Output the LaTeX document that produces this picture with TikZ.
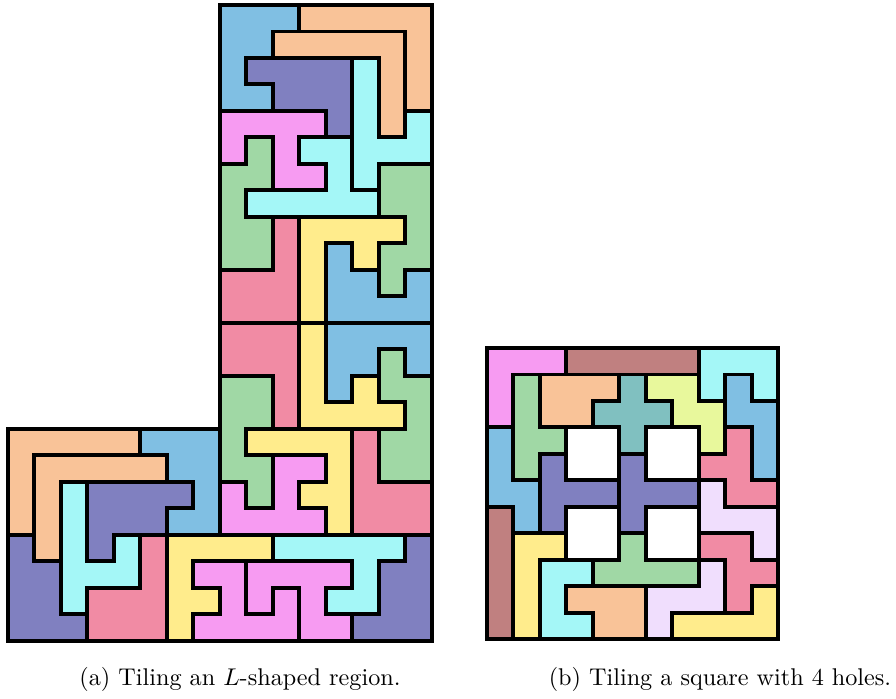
\documentclass[tikz,border=0pt]{standalone}
\usepackage{tikz}

\definecolor{tBlue}{RGB}{128,191,227}
\definecolor{tOrange}{RGB}{249,195,152}
\definecolor{tPurple}{RGB}{128,128,192}
\definecolor{tCyan}{RGB}{164,247,247}
\definecolor{tMagenta}{RGB}{247,155,242}
\definecolor{tGreen}{RGB}{160,216,165}
\definecolor{tRose}{RGB}{241,139,164}
\definecolor{tYellow}{RGB}{255,236,140}
\definecolor{tBrown}{RGB}{192,128,128}
\definecolor{tTeal}{RGB}{128,192,192}
\definecolor{tLime}{RGB}{232,248,156}
\definecolor{tLavender}{RGB}{240,222,253}

\begin{document}
\begin{tikzpicture}[
  x=0.01452cm, y=-0.01452cm,
  tile/.style={draw=black, line width=1.65pt, line join=miter},
  subcap/.style={anchor=base, font=\normalsize},
]

\useasboundingbox (0,0) rectangle (896,698);

%% (a) L-shaped region, octominoes
\begin{scope}[shift={(8,5)}, x=0.3848cm, y=-0.3848cm]
\filldraw[tile, fill=tBlue]    (8,0) -- (11,0) -- (11,1) -- (10,1) -- (10,2) -- (9,2) -- (9,3) -- (10,3) -- (10,4) -- (8,4) -- cycle;
\filldraw[tile, fill=tOrange]  (11,0) -- (16,0) -- (16,4) -- (15,4) -- (15,1) -- (11,1) -- cycle;
\filldraw[tile, fill=tOrange]  (10,1) -- (15,1) -- (15,5) -- (14,5) -- (14,2) -- (10,2) -- cycle;
\filldraw[tile, fill=tPurple]  (9,2) -- (13,2) -- (13,5) -- (12,5) -- (12,4) -- (10,4) -- (10,3) -- (9,3) -- cycle;
\filldraw[tile, fill=tCyan]    (13,2) -- (14,2) -- (14,5) -- (15,5) -- (15,4) -- (16,4) -- (16,6) -- (14,6) -- (14,7) -- (13,7) -- cycle;
\filldraw[tile, fill=tMagenta] (8,4) -- (12,4) -- (12,5) -- (11,5) -- (11,6) -- (12,6) -- (12,7) -- (10,7) -- (10,5) -- (9,5) -- (9,6) -- (8,6) -- cycle;
\filldraw[tile, fill=tCyan]    (11,5) -- (13,5) -- (13,7) -- (14,7) -- (14,8) -- (9,8) -- (9,7) -- (12,7) -- (12,6) -- (11,6) -- cycle;
\filldraw[tile, fill=tGreen]   (9,5) -- (10,5) -- (10,7) -- (9,7) -- (9,8) -- (10,8) -- (10,10) -- (8,10) -- (8,6) -- (9,6) -- cycle;
\filldraw[tile, fill=tGreen]   (14,6) -- (16,6) -- (16,10) -- (15,10) -- (15,11) -- (14,11) -- (14,9) -- (15,9) -- (15,8) -- (14,8) -- cycle;
\filldraw[tile, fill=tRose]    (10,8) -- (11,8) -- (11,12) -- (8,12) -- (8,10) -- (10,10) -- cycle;
\filldraw[tile, fill=tYellow]  (11,8) -- (15,8) -- (15,9) -- (14,9) -- (14,10) -- (13,10) -- (13,9) -- (12,9) -- (12,12) -- (11,12) -- cycle;
\filldraw[tile, fill=tBlue]    (12,9) -- (13,9) -- (13,10) -- (14,10) -- (14,11) -- (15,11) -- (15,10) -- (16,10) -- (16,12) -- (12,12) -- cycle;
\filldraw[tile, fill=tRose]    (8,12) -- (11,12) -- (11,16) -- (10,16) -- (10,14) -- (8,14) -- cycle;
\filldraw[tile, fill=tYellow]  (11,12) -- (12,12) -- (12,15) -- (13,15) -- (13,14) -- (14,14) -- (14,15) -- (15,15) -- (15,16) -- (11,16) -- cycle;
\filldraw[tile, fill=tBlue]    (12,12) -- (16,12) -- (16,14) -- (15,14) -- (15,13) -- (14,13) -- (14,14) -- (13,14) -- (13,15) -- (12,15) -- cycle;
\filldraw[tile, fill=tGreen]   (14,13) -- (15,13) -- (15,14) -- (16,14) -- (16,18) -- (14,18) -- (14,16) -- (15,16) -- (15,15) -- (14,15) -- cycle;
\filldraw[tile, fill=tGreen]   (8,14) -- (10,14) -- (10,16) -- (9,16) -- (9,17) -- (10,17) -- (10,19) -- (9,19) -- (9,18) -- (8,18) -- cycle;
\filldraw[tile, fill=tYellow]  (9,16) -- (13,16) -- (13,20) -- (12,20) -- (12,19) -- (11,19) -- (11,18) -- (12,18) -- (12,17) -- (9,17) -- cycle;
\filldraw[tile, fill=tMagenta] (10,17) -- (12,17) -- (12,18) -- (11,18) -- (11,19) -- (12,19) -- (12,20) -- (8,20) -- (8,18) -- (9,18) -- (9,19) -- (10,19) -- cycle;
\filldraw[tile, fill=tRose]    (13,16) -- (14,16) -- (14,18) -- (16,18) -- (16,20) -- (13,20) -- cycle;
\filldraw[tile, fill=tCyan]    (10,20) -- (15,20) -- (15,21) -- (14,21) -- (14,23) -- (12,23) -- (12,22) -- (13,22) -- (13,21) -- (10,21) -- cycle;
\filldraw[tile, fill=tPurple]  (15,20) -- (16,20) -- (16,24) -- (13,24) -- (13,23) -- (14,23) -- (14,21) -- (15,21) -- cycle;
\filldraw[tile, fill=tMagenta] (9,21) -- (13,21) -- (13,22) -- (12,22) -- (12,23) -- (13,23) -- (13,24) -- (11,24) -- (11,22) -- (10,22) -- (10,23) -- (9,23) -- cycle;
\filldraw[tile, fill=tMagenta] (7,21) -- (9,21) -- (9,23) -- (10,23) -- (10,22) -- (11,22) -- (11,24) -- (7,24) -- (7,23) -- (8,23) -- (8,22) -- (7,22) -- cycle;
\filldraw[tile, fill=tOrange]  (0,16) -- (5,16) -- (5,17) -- (1,17) -- (1,20) -- (0,20) -- cycle;
\filldraw[tile, fill=tOrange]  (1,17) -- (6,17) -- (6,18) -- (2,18) -- (2,21) -- (1,21) -- cycle;
\filldraw[tile, fill=tBlue]    (5,16) -- (8,16) -- (8,20) -- (6,20) -- (6,19) -- (7,19) -- (7,18) -- (6,18) -- (6,17) -- (5,17) -- cycle;
\filldraw[tile, fill=tPurple]  (3,18) -- (7,18) -- (7,19) -- (6,19) -- (6,20) -- (4,20) -- (4,21) -- (3,21) -- cycle;
\filldraw[tile, fill=tCyan]    (2,18) -- (3,18) -- (3,21) -- (4,21) -- (4,20) -- (5,20) -- (5,22) -- (3,22) -- (3,23) -- (2,23) -- cycle;
\filldraw[tile, fill=tPurple]  (0,20) -- (1,20) -- (1,21) -- (2,21) -- (2,23) -- (3,23) -- (3,24) -- (0,24) -- cycle;
\filldraw[tile, fill=tRose]    (5,20) -- (6,20) -- (6,24) -- (3,24) -- (3,22) -- (5,22) -- cycle;
\filldraw[tile, fill=tYellow]  (6,20) -- (10,20) -- (10,21) -- (7,21) -- (7,22) -- (8,22) -- (8,23) -- (7,23) -- (7,24) -- (6,24) -- cycle;
\end{scope}

%% (b) square with 4 holes, pentominoes
\begin{scope}[shift={(487,348)}, x=0.3848cm, y=-0.3848cm]
\filldraw[tile, fill=tMagenta]  (0,0) -- (3,0) -- (3,1) -- (1,1) -- (1,3) -- (0,3) -- cycle;
\filldraw[tile, fill=tBrown]    (3,0) -- (8,0) -- (8,1) -- (3,1) -- cycle;
\filldraw[tile, fill=tCyan]     (8,0) -- (11,0) -- (11,2) -- (10,2) -- (10,1) -- (9,1) -- (9,2) -- (8,2) -- cycle;
\filldraw[tile, fill=tGreen]    (1,1) -- (2,1) -- (2,3) -- (3,3) -- (3,4) -- (2,4) -- (2,5) -- (1,5) -- cycle;
\filldraw[tile, fill=tOrange]   (2,1) -- (5,1) -- (5,2) -- (4,2) -- (4,3) -- (2,3) -- cycle;
\filldraw[tile, fill=tTeal]     (5,1) -- (6,1) -- (6,2) -- (7,2) -- (7,3) -- (6,3) -- (6,4) -- (5,4) -- (5,3) -- (4,3) -- (4,2) -- (5,2) -- cycle;
\filldraw[tile, fill=tLime]     (6,1) -- (8,1) -- (8,2) -- (9,2) -- (9,4) -- (8,4) -- (8,3) -- (7,3) -- (7,2) -- (6,2) -- cycle;
\filldraw[tile, fill=tBlue]     (9,1) -- (10,1) -- (10,2) -- (11,2) -- (11,5) -- (10,5) -- (10,3) -- (9,3) -- cycle;
\filldraw[tile, fill=tBlue]     (0,3) -- (1,3) -- (1,5) -- (2,5) -- (2,7) -- (1,7) -- (1,6) -- (0,6) -- cycle;
\filldraw[tile, fill=tPurple]   (2,4) -- (3,4) -- (3,5) -- (5,5) -- (5,6) -- (3,6) -- (3,7) -- (2,7) -- cycle;
\filldraw[tile, fill=tPurple]   (5,4) -- (6,4) -- (6,5) -- (8,5) -- (8,6) -- (6,6) -- (6,7) -- (5,7) -- cycle;
\filldraw[tile, fill=tRose]     (9,3) -- (10,3) -- (10,5) -- (11,5) -- (11,6) -- (9,6) -- (9,5) -- (8,5) -- (8,4) -- (9,4) -- cycle;
\filldraw[tile, fill=tLavender] (8,5) -- (9,5) -- (9,6) -- (11,6) -- (11,8) -- (10,8) -- (10,7) -- (8,7) -- cycle;
\filldraw[tile, fill=tBrown]    (0,6) -- (1,6) -- (1,11) -- (0,11) -- cycle;
\filldraw[tile, fill=tYellow]   (1,7) -- (3,7) -- (3,8) -- (2,8) -- (2,11) -- (1,11) -- cycle;
\filldraw[tile, fill=tCyan]     (2,8) -- (4,8) -- (4,9) -- (3,9) -- (3,10) -- (4,10) -- (4,11) -- (2,11) -- cycle;
\filldraw[tile, fill=tGreen]    (5,7) -- (6,7) -- (6,8) -- (8,8) -- (8,9) -- (4,9) -- (4,8) -- (5,8) -- cycle;
\filldraw[tile, fill=tOrange]   (3,9) -- (6,9) -- (6,11) -- (4,11) -- (4,10) -- (3,10) -- cycle;
\filldraw[tile, fill=tLavender] (8,8) -- (9,8) -- (9,10) -- (7,10) -- (7,11) -- (6,11) -- (6,9) -- (8,9) -- cycle;
\filldraw[tile, fill=tRose]     (8,7) -- (10,7) -- (10,8) -- (11,8) -- (11,9) -- (10,9) -- (10,10) -- (9,10) -- (9,8) -- (8,8) -- cycle;
\filldraw[tile, fill=tYellow]   (10,9) -- (11,9) -- (11,11) -- (7,11) -- (7,10) -- (10,10) -- cycle;
\end{scope}

%% Captions
\node[subcap] (capA) at (240,685) {(a) Tiling an $L$-shaped region.};
\node[subcap] (capB) at (720,685) {(b) Tiling a square with 4 holes.};

\end{tikzpicture}
\end{document}
